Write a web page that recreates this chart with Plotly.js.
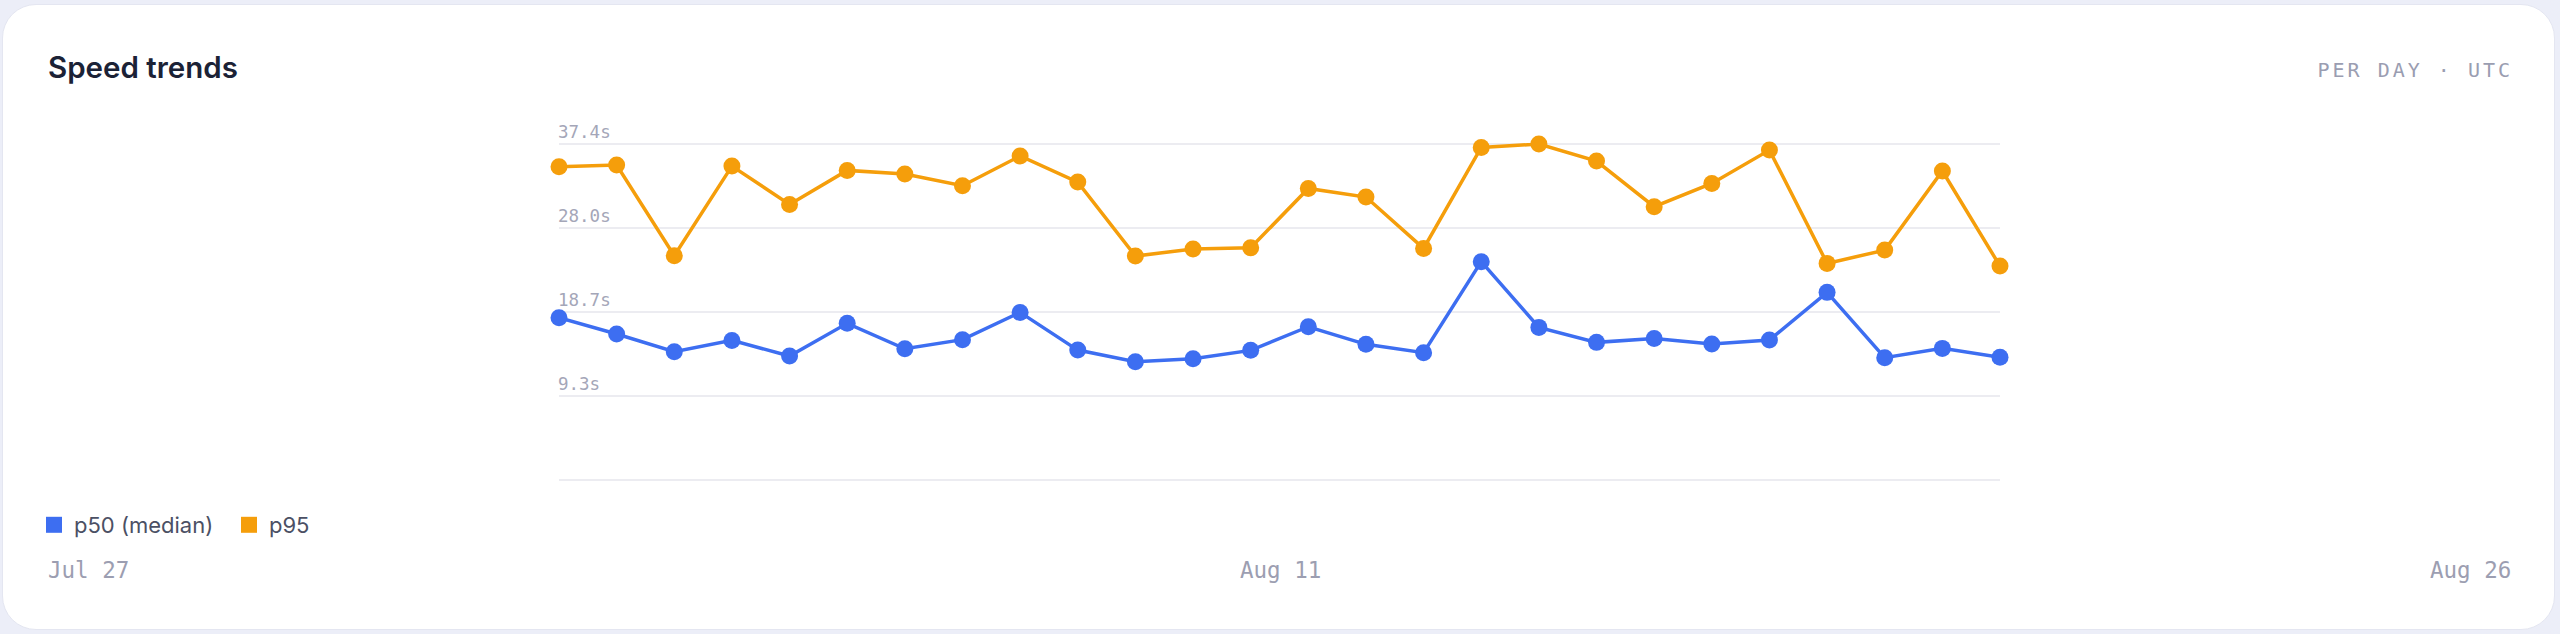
<!DOCTYPE html>
<html>
<head>
<meta charset="utf-8">
<script src="https://cdn.plot.ly/plotly-3.0.1.min.js"></script>
<style>
  html, body { margin: 0; padding: 0; background: #eceef8; width: 2560px; height: 634px; overflow: hidden; }
  #card { position: absolute; left: 2px; top: 4px; width: 2553px; height: 626px; background: #ffffff;
          border-radius: 34px; border: 1px solid #e4e6f1; box-sizing: border-box; }
  #chart { position: absolute; left: 0; top: 0; width: 2560px; height: 634px; }
  .annotation[data-index="1"] text { letter-spacing: 3px; }
</style>
</head>
<body>
<div id="card"></div>
<div id="chart"></div>
<script>
// ---- data ----
const dayIndex = [0,1,2,3,4,5,6,7,8,9,10,11,12,13,14,15,16,17,18,19,20,21,22,23,24,25];
const seriesNames = ['p50 (median)', 'p95'];
const p50 = [18.05, 16.23, 14.26, 15.52, 13.78, 17.42, 14.59, 15.60, 18.64, 14.44, 13.15, 13.48, 14.41,
             17.04, 15.08, 14.15, 24.29, 16.97, 15.30, 15.74, 15.11, 15.56, 20.87, 13.59, 14.63, 13.63];
const p95 = [34.87, 35.05, 24.95, 34.94, 30.67, 34.46, 34.05, 32.75, 36.06, 33.16, 24.92, 25.70, 25.84,
             32.45, 31.49, 25.77, 37.02, 37.40, 35.50, 30.41, 33.01, 36.72, 24.10, 25.58, 34.39, 23.80];
const yTickVals = [0, 9.35, 18.7, 28.05, 37.4];
const yTickLabels = ['', '9.3s', '18.7s', '28.0s', '37.4s'];
const xTickLabels = ['Jul 27', 'Aug 11', 'Aug 26'];
const chartTitle = 'Speed trends';
const chartSubtitle = 'PER DAY · UTC';

// ---- style ----
const colors = ['#3d6ef1', '#f59e0b'];
const W = 2560, H = 634;
const px = v => v / W;
const py = v => 1 - v / H;
const mono = '"DejaVu Sans Mono", "Liberation Mono", monospace';
const sans = 'Inter, "Noto Sans", sans-serif';

function lineTrace(y, i) {
  return {
    x: dayIndex, y: y, type: 'scatter', mode: 'lines+markers', name: seriesNames[i],
    showlegend: false, cliponaxis: false, hoverinfo: 'skip',
    line: { color: colors[i], width: 3.5 },
    marker: { color: colors[i], size: 17 }
  };
}
function legendTrace(i) {
  return {
    x: [null], y: [null], type: 'scatter', mode: 'markers', name: seriesNames[i],
    showlegend: true, hoverinfo: 'skip',
    marker: { color: colors[i], size: 18, symbol: 'square' }
  };
}

const data = [lineTrace(p50, 0), lineTrace(p95, 1), legendTrace(0), legendTrace(1)];

const layout = {
  width: W, height: H,
  margin: { l: 0, r: 0, t: 0, b: 0, pad: 0 },
  paper_bgcolor: 'rgba(0,0,0,0)', plot_bgcolor: 'rgba(0,0,0,0)',
  showlegend: true,
  xaxis: {
    domain: [px(559), px(2000)], range: [0, dayIndex.length - 1],
    showgrid: false, zeroline: false, showline: false, showticklabels: false, ticks: ''
  },
  yaxis: {
    domain: [py(481.05), py(142.65)], range: [-0.15, 37.55],
    tickvals: yTickVals, ticktext: yTickLabels,
    ticklabelposition: 'inside top', ticklabeloverflow: 'allow', ticks: '', ticklabelstandoff: -4,
    showgrid: true, gridcolor: '#ececf1', gridwidth: 2,
    zeroline: false, showline: false,
    tickfont: { family: mono, size: 17.5, color: '#a4a6b8' }
  },
  legend: {
    orientation: 'h', x: px(34), y: py(525), xanchor: 'left', yanchor: 'middle',
    bgcolor: 'rgba(0,0,0,0)', borderwidth: 0,
    entrywidth: 150, entrywidthmode: 'pixels',
    font: { family: sans, size: 22, color: '#4b5064' }
  },
  annotations: [
    { text: chartTitle, xref: 'paper', yref: 'paper', x: px(46), y: py(67), xanchor: 'left', yanchor: 'middle',
      showarrow: false, font: { family: sans, size: 29.5, color: '#1b2236', weight: 600 } },
    { text: chartSubtitle, xref: 'paper', yref: 'paper', x: px(2415.5), y: py(70), xanchor: 'center', yanchor: 'middle',
      showarrow: false, font: { family: mono, size: 20, color: '#9a9db1' } },
    { text: xTickLabels[0], xref: 'paper', yref: 'paper', x: px(46), y: py(570), xanchor: 'left', yanchor: 'middle',
      showarrow: false, font: { family: mono, size: 22.5, color: '#9c9eb1' } },
    { text: xTickLabels[1], xref: 'paper', yref: 'paper', x: px(1280), y: py(570), xanchor: 'center', yanchor: 'middle',
      showarrow: false, font: { family: mono, size: 22.5, color: '#9c9eb1' } },
    { text: xTickLabels[2], xref: 'paper', yref: 'paper', x: px(2513), y: py(570), xanchor: 'right', yanchor: 'middle',
      showarrow: false, font: { family: mono, size: 22.5, color: '#9c9eb1' } }
  ]
};

Plotly.newPlot('chart', data, layout, { staticPlot: true, displayModeBar: false });
</script>
</body>
</html>
